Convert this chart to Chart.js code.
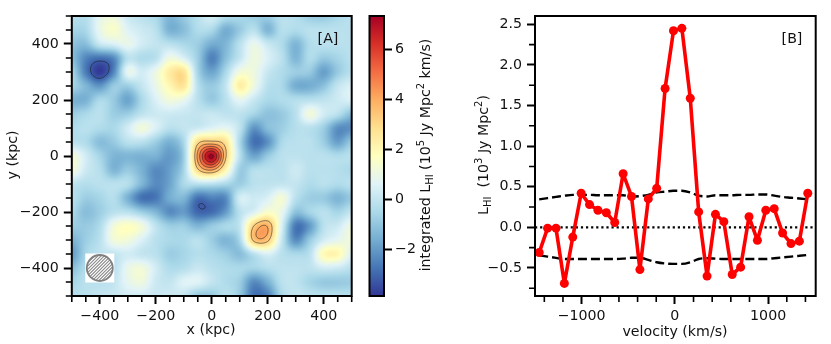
<!DOCTYPE html>
<html>
<head>
<meta charset="utf-8">
<script src="https://cdn.jsdelivr.net/npm/chart.js@4"></script>
<style>
html, body { margin: 0; padding: 0; background: #fff; overflow: hidden; }
canvas { position: absolute; top: 0; }
</style>
</head>
<body>
<canvas id="mapChart" width="360" height="344" style="left:0"></canvas>
<canvas id="barChart" width="80" height="344" style="left:360px"></canvas>
<canvas id="lineChart" width="391" height="344" style="left:440px"></canvas>
<script>
// map values, columns x = -500..500, rows y = 500..-500 (kpc)
var mapX = [-500,-450,-400,-350,-300,-250,-200,-150,-100,-50,0,50,100,150,200,250,300,350,400,450,500];
var mapY = [500,450,400,350,300,250,200,150,100,50,0,-50,-100,-150,-200,-250,-300,-350,-400,-450,-500];
var mapValues = [
 [-0.2,-0.3,0.8,1.1,0.2,-0.2,-0.5,-1.4,-0.9,-0.2,0.4,-0.3,-0.5,-0.8,-0.8,-0.2,-0.3,-0.8,-0.9,-0.5,-0.2],
 [-0.6,-0.5,0.9,1.5,0.6,0.2,-0.2,-1.5,-1.2,-0.4,-0.5,-1.6,-0.9,-0.2,-1.4,-0.3,-0.4,-0.2,-0.2,-0.2,-0.2],
 [-1.1,-1.2,0.1,0.5,0.9,0.3,0.0,-0.2,-0.5,-0.8,-1.6,-1.4,-0.2,0.9,0.1,-0.4,-1.4,-0.4,-0.2,-0.2,-0.2],
 [-1.2,-2.4,-2.8,-2.3,-0.2,-0.4,-0.2,1.1,0.5,-0.8,-2.5,-1.2,0.0,1.1,0.5,-0.2,-1.4,-0.4,-0.9,-0.6,-0.2],
 [-0.6,-2.6,-3.8,-2.4,0.8,0.3,1.0,2.4,2.7,-0.6,-1.8,-0.5,1.2,1.1,0.1,-0.4,-0.8,-0.9,-1.9,-0.9,-0.2],
 [-0.6,-1.4,-2.1,-0.9,-0.8,0.0,0.9,2.0,2.6,-0.2,-0.9,0.0,2.3,1.1,-0.2,-0.5,-1.6,-1.6,-1.1,0.0,0.5],
 [-1.5,-1.5,-0.5,-0.9,-1.8,-0.5,0.5,1.2,0.9,-0.2,-0.9,-0.2,0.8,0.1,-0.5,-0.4,-0.3,-0.2,-0.1,0.2,0.5],
 [-0.8,-0.5,-0.2,-0.8,-0.8,-0.1,0.2,0.2,0.1,0.0,0.1,-0.1,-0.1,-0.6,-1.1,-0.9,-0.2,1.2,0.3,-0.2,-1.2],
 [-0.4,-0.2,-0.4,-0.5,0.3,1.2,0.5,-0.2,0.0,0.2,0.6,0.8,-0.1,-2.1,-1.2,-0.8,-0.3,-0.2,-0.8,-2.2,-2.2],
 [-0.2,-0.4,-1.2,-0.9,-0.2,-0.2,-0.8,-1.5,-0.5,2.9,3.4,2.7,-0.5,-2.8,-2.2,-0.5,-0.2,-0.2,-0.8,-1.9,-0.9],
 [1.3,0.3,-0.6,-1.4,-1.4,-1.5,-1.5,-2.0,-0.8,4.2,7.3,3.3,-0.2,-1.8,-0.9,-0.2,-0.1,-0.2,-0.2,-0.4,-0.2],
 [1.3,0.2,-0.3,-1.4,-0.9,-1.5,-2.3,-1.9,-0.6,3.0,4.0,2.0,-0.8,-0.3,-0.2,-0.2,0.2,-0.2,-0.2,-0.3,-0.5],
 [-0.1,-0.3,-0.2,-0.2,-0.3,-1.4,-2.3,-1.8,-0.5,-0.2,-0.2,-0.5,-0.8,-0.2,-0.1,0.0,0.0,-0.4,-0.2,-0.4,-0.2],
 [-0.2,-0.8,-0.6,-0.3,-1.5,-2.8,-2.7,-1.6,-1.4,-2.8,-2.5,-2.3,0.3,0.2,0.5,1.3,-0.2,-0.8,-0.9,-1.4,-0.9],
 [-0.5,-1.2,-0.8,-0.2,-0.2,-0.8,-1.4,-2.3,-2.0,-3.0,-2.9,-2.0,-0.2,0.5,1.5,0.9,-1.1,-0.6,-0.2,-0.6,0.0],
 [-0.8,-0.9,-0.4,1.2,1.7,1.2,-0.1,-0.8,-0.8,-1.4,-0.9,-0.5,0.0,3.2,3.9,0.5,-2.7,-2.0,-0.2,0.2,1.1],
 [-1.5,-0.8,-0.2,1.2,1.2,0.5,-0.2,-0.5,-0.5,-0.2,-0.8,-1.4,-0.5,3.4,3.4,0.1,-2.3,-0.9,0.3,0.8,1.2],
 [-2.0,-0.6,-0.1,0.0,0.3,0.0,-0.2,-0.8,-0.6,-0.3,-0.5,-0.8,-1.2,-0.2,0.5,-0.2,-0.5,-0.2,1.9,2.0,0.6],
 [-1.2,-0.4,-0.3,-0.2,0.9,1.2,0.3,-0.4,-0.3,0.1,-0.2,-0.4,-0.5,-0.6,-0.3,-0.1,-0.1,-0.1,0.3,0.2,-0.2],
 [-0.6,-0.2,-0.2,0.0,0.8,1.1,0.2,0.0,0.6,0.6,0.0,-0.4,-0.8,-2.3,-1.5,-0.2,-0.1,-0.6,-0.9,-0.9,-0.8],
 [-0.3,-0.2,0.0,0.1,0.3,0.3,0.1,0.2,0.0,-0.9,-0.9,-0.2,-0.9,-2.8,-2.5,-0.5,0.0,-0.1,-0.2,-0.2,-0.2]
];
var contourLevels = [-3.2,3.2,4.0,4.8,5.6,6.4,7.2];
var colorStops = ['#313695','#4575b4','#74add1','#abd9e9','#e0f3f8','#ffffbf','#fee090','#fdae61','#f46d43','#d73027','#a50026'];
var colorMin = -3.87, colorMax = 7.33;

var mapTicks = [-400,-200,0,200,400];
var mapMinor = [-500,-450,-350,-300,-250,-150,-100,-50,50,100,150,250,300,350,450,500];
var barTicks = [-2,0,2,4,6];

// spectrum
var velocity = [-1455,-1365,-1275,-1185,-1095,-1005,-915,-825,-735,-645,-555,-465,-375,-285,-195,-105,-15,75,165,255,345,435,525,615,705,795,885,975,1065,1155,1245,1335,1425];
var luminosity = [-0.31,-0.01,-0.01,-0.69,-0.12,0.42,0.28,0.21,0.18,0.06,0.66,0.38,-0.52,0.35,0.48,1.71,2.42,2.45,1.59,0.19,-0.60,0.16,0.07,-0.58,-0.49,0.13,-0.16,0.21,0.23,-0.07,-0.20,-0.17,0.42];
var upperLimit = [0.345,0.36,0.375,0.39,0.40,0.40,0.40,0.395,0.395,0.395,0.395,0.38,0.385,0.40,0.43,0.44,0.45,0.45,0.43,0.39,0.38,0.395,0.395,0.395,0.40,0.40,0.405,0.405,0.39,0.375,0.365,0.355,0.345];
var lowerLimit = [-0.345,-0.36,-0.375,-0.39,-0.39,-0.39,-0.39,-0.39,-0.39,-0.39,-0.385,-0.375,-0.375,-0.40,-0.43,-0.445,-0.45,-0.45,-0.43,-0.39,-0.38,-0.385,-0.39,-0.39,-0.39,-0.39,-0.39,-0.39,-0.38,-0.37,-0.36,-0.35,-0.34];
var zeroX = [-1500,1510], zeroY = [0,0];
var velTicks = [-1000,0,1000];
var velMinor = [-1400,-1200,-800,-600,-400,-200,200,400,600,800,1200,1400];
var lumTicks = [-0.5,0,0.5,1,1.5,2,2.5];
var lumMinor = [-0.75,-0.25,0.25,0.75,1.25,1.75,2.25];

var FONT = 'DejaVu Sans';
var SIZE = 14.2;
var INK = '#111';

function minusFmt(v) { return String(v).replace('-', '\u2212'); }

function hexRgb(h) {
  return [parseInt(h.substr(1,2),16), parseInt(h.substr(3,2),16), parseInt(h.substr(5,2),16)];
}
var stopsRgb = colorStops.map(hexRgb);

function colorFor(v) {
  var t = (v - colorMin) / (colorMax - colorMin);
  t = Math.max(0, Math.min(0.99999, t)) * (stopsRgb.length - 1);
  var i = Math.floor(t), f = t - i;
  var a = stopsRgb[i], b = stopsRgb[i + 1];
  return [a[0] + (b[0]-a[0])*f, a[1] + (b[1]-a[1])*f, a[2] + (b[2]-a[2])*f];
}

function cubic(a, b, c, d, t) {
  return b + 0.5*t*(c - a + t*(2*a - 5*b + 4*c - d + t*(3*(b - c) + d - a)));
}

// catmull-rom lookup in the value table
function sampleMap(x, y) {
  var n = mapX.length - 1, m = mapY.length - 1;
  var fx = (x - mapX[0]) / (mapX[n] - mapX[0]) * n;
  var fy = (y - mapY[0]) / (mapY[m] - mapY[0]) * m;
  var ix = Math.min(n - 1, Math.max(0, Math.floor(fx)));
  var iy = Math.min(m - 1, Math.max(0, Math.floor(fy)));
  var col = [];
  for (var j = -1; j <= 2; j++) {
    var row = mapValues[Math.max(0, Math.min(m, iy + j))];
    col.push(cubic(row[Math.max(0, ix-1)], row[ix], row[ix+1], row[Math.min(n, ix+2)], fx - ix));
  }
  return cubic(col[0], col[1], col[2], col[3], fy - iy);
}

// label with sub/superscripts: each piece is [text, 'sub'|'sup'|undefined]
function richText(ctx, pieces, cx, cy, rotate) {
  ctx.save();
  ctx.translate(cx, cy);
  if (rotate) ctx.rotate(-Math.PI / 2);
  ctx.fillStyle = INK;
  ctx.textBaseline = 'alphabetic';
  ctx.textAlign = 'left';
  var total = 0;
  pieces.forEach(function (p) {
    ctx.font = (p[1] ? 10 : SIZE) + 'px "' + FONT + '"';
    total += ctx.measureText(p[0]).width;
  });
  var at = -total / 2;
  pieces.forEach(function (p) {
    ctx.font = (p[1] ? 10 : SIZE) + 'px "' + FONT + '"';
    var dy = p[1] === 'sub' ? 7.5 : (p[1] === 'sup' ? -1 : 5);
    ctx.fillText(p[0], at, dy);
    at += ctx.measureText(p[0]).width;
  });
  ctx.restore();
}

function drawFrame(chart) {
  var a = chart.chartArea, ctx = chart.ctx;
  ctx.save();
  ctx.strokeStyle = '#000';
  ctx.lineWidth = 2;
  ctx.strokeRect(a.left, a.top, a.right - a.left, a.bottom - a.top);
  ctx.restore();
}

function minorTicks(chart, xs, ys) {
  var ctx = chart.ctx, a = chart.chartArea;
  ctx.save();
  ctx.strokeStyle = '#000';
  ctx.lineWidth = 1.6;
  ctx.beginPath();
  xs.forEach(function (v) {
    var p = chart.scales.x.getPixelForValue(v);
    ctx.moveTo(p, a.bottom);
    ctx.lineTo(p, a.bottom + 6);
  });
  ys.forEach(function (v) {
    var p = chart.scales.y.getPixelForValue(v);
    ctx.moveTo(a.left, p);
    ctx.lineTo(a.left - 6, p);
  });
  ctx.stroke();
  ctx.restore();
}

function fixedTicks(list) {
  return function (scale) {
    scale.ticks = list.map(function (v) { return { value: v }; });
  };
}

function axisOpts(min, max, list, pos, fit, fmt, pad) {
  return {
    type: 'linear',
    position: pos,
    min: min,
    max: max,
    afterBuildTicks: fixedTicks(list),
    afterFit: fit,
    border: { display: false },
    grid: { drawOnChartArea: false, drawTicks: true, tickLength: 8, tickWidth: 2, tickColor: '#000' },
    ticks: {
      color: INK,
      padding: pad,
      maxRotation: 0,
      autoSkip: false,
      font: { family: FONT, size: SIZE },
      callback: fmt || function (v) { return minusFmt(v); }
    }
  };
}

var mapPlugin = {
  id: 'mapLayer',
  beforeDatasetsDraw: function (chart) {
    var ctx = chart.ctx, a = chart.chartArea;
    var sx = chart.scales.x, sy = chart.scales.y;
    var x0 = sx.getPixelForValue(-500), x1 = sx.getPixelForValue(500);
    var y0 = sy.getPixelForValue(500), y1 = sy.getPixelForValue(-500);

    // colour field
    var N = 140;
    var off = document.createElement('canvas');
    off.width = N; off.height = N;
    var octx = off.getContext('2d');
    var img = octx.createImageData(N, N);
    for (var j = 0; j < N; j++) {
      for (var i = 0; i < N; i++) {
        var c = colorFor(sampleMap(-500 + 1000*(i+0.5)/N, 500 - 1000*(j+0.5)/N));
        var k = (j*N + i)*4;
        img.data[k] = c[0]; img.data[k+1] = c[1]; img.data[k+2] = c[2]; img.data[k+3] = 255;
      }
    }
    octx.putImageData(img, 0, 0);
    ctx.save();
    ctx.imageSmoothingEnabled = true;
    ctx.imageSmoothingQuality = 'high';
    ctx.drawImage(off, x0, y0, x1 - x0, y1 - y0);
    ctx.restore();

    // contours, marching squares over a fine sampling of the table
    var M = 400, f = [];
    for (j = 0; j <= M; j++) {
      f.push([]);
      for (i = 0; i <= M; i++) f[j].push(sampleMap(-500 + 1000*i/M, 500 - 1000*j/M));
    }
    ctx.save();
    ctx.strokeStyle = 'rgba(20,20,20,0.75)';
    ctx.lineWidth = 0.7;
    ctx.beginPath();
    contourLevels.forEach(function (lev) {
      for (var j = 0; j < M; j++) {
        for (var i = 0; i < M; i++) {
          var pts = [];
          var v = [f[j][i], f[j][i+1], f[j+1][i+1], f[j+1][i]];
          var cx = [i, i+1, i+1, i], cy = [j, j, j+1, j+1];
          for (var e = 0; e < 4; e++) {
            var n = (e + 1) % 4;
            if ((v[e] < lev) !== (v[n] < lev)) {
              var t = (lev - v[e]) / (v[n] - v[e]);
              pts.push([cx[e] + (cx[n]-cx[e])*t, cy[e] + (cy[n]-cy[e])*t]);
            }
          }
          for (var q = 0; q + 1 < pts.length; q += 2) {
            ctx.moveTo(sx.getPixelForValue(-500 + 1000*pts[q][0]/M), sy.getPixelForValue(500 - 1000*pts[q][1]/M));
            ctx.lineTo(sx.getPixelForValue(-500 + 1000*pts[q+1][0]/M), sy.getPixelForValue(500 - 1000*pts[q+1][1]/M));
          }
        }
      }
    });
    ctx.stroke();
    ctx.restore();

    // beam marker
    var bx = sx.getPixelForValue(-400), by = sy.getPixelForValue(-400);
    var half = 14.5, r = 13;
    ctx.save();
    ctx.fillStyle = '#fff';
    ctx.fillRect(bx - half, by - half, half*2, half*2);
    ctx.beginPath();
    ctx.arc(bx, by, r, 0, Math.PI*2);
    ctx.save();
    ctx.clip();
    ctx.strokeStyle = '#8a8a8a';
    ctx.lineWidth = 1.1;
    ctx.beginPath();
    for (var d = -30; d <= 30; d += 3.2) {
      ctx.moveTo(bx + d - 20, by + 20);
      ctx.lineTo(bx + d + 20, by - 20);
    }
    ctx.stroke();
    ctx.restore();
    ctx.strokeStyle = '#808080';
    ctx.lineWidth = 1.8;
    ctx.beginPath();
    ctx.arc(bx, by, r, 0, Math.PI*2);
    ctx.stroke();
    ctx.restore();
  },
  afterDraw: function (chart) {
    var ctx = chart.ctx;
    drawFrame(chart);
    minorTicks(chart, mapMinor, mapMinor);
    richText(ctx, [['[A]']], 328, 38, false);
    richText(ctx, [['x (kpc)']], 211, 329, false);
    richText(ctx, [['y (kpc)']], 12, 155, true);
  }
};

var barPlugin = {
  id: 'barLayer',
  beforeDatasetsDraw: function (chart) {
    var ctx = chart.ctx, a = chart.chartArea, sy = chart.scales.y;
    var g = ctx.createLinearGradient(0, sy.getPixelForValue(colorMin), 0, sy.getPixelForValue(colorMax));
    colorStops.forEach(function (c, i) { g.addColorStop(i / (colorStops.length - 1), c); });
    ctx.save();
    ctx.fillStyle = g;
    ctx.fillRect(a.left, a.top, a.right - a.left, a.bottom - a.top);
    ctx.restore();
  },
  afterDraw: function (chart) {
    drawFrame(chart);
    richText(chart.ctx, [['integrated L'],['HI','sub'],[' (10'],['5','sup'],[' Jy Mpc'],['2','sup'],[' km/s)']], 65, 155, true);
  }
};

var linePlugin = {
  id: 'lineLayer',
  afterDraw: function (chart) {
    var ctx = chart.ctx;
    drawFrame(chart);
    minorTicks(chart, velMinor, lumMinor);
    richText(ctx, [['[B]']], 352, 38, false);
    richText(ctx, [['velocity (km/s)']], 235, 331, false);
    richText(ctx, [['L'],['HI','sub'],['  (10'],['3','sup'],[' Jy Mpc'],['2','sup'],[')']], 43, 155, true);
  }
};

function pairs(xs, ys) {
  return xs.map(function (x, i) { return { x: x, y: ys[i] }; });
}

var base = {
  responsive: false,
  animation: false,
  events: [],
  plugins: { legend: { display: false }, tooltip: { enabled: false } }
};

function withBase(extra) { return Object.assign({}, base, extra); }

new Chart(document.getElementById('mapChart'), {
  type: 'scatter',
  data: { datasets: [{ data: [] }] },
  plugins: [mapPlugin],
  options: withBase({
    layout: { padding: { top: 16, left: 0, right: 8.3, bottom: 0 } },
    scales: {
      x: axisOpts(-500, 500, mapTicks, 'bottom', function (s) { s.height = 48; }, null, 4),
      y: axisOpts(-500, 500, mapTicks, 'left', function (s) { s.width = 71.8; }, null, 5)
    }
  })
});

new Chart(document.getElementById('barChart'), {
  type: 'scatter',
  data: { datasets: [{ data: [] }] },
  plugins: [barPlugin],
  options: withBase({
    layout: { padding: { top: 16, left: 9.5, right: 0, bottom: 48 } },
    scales: {
      x: { type: 'linear', display: false, min: 0, max: 1 },
      y: axisOpts(colorMin, colorMax, barTicks, 'right', function (s) { s.width = 56; }, null, 3)
    }
  })
});

new Chart(document.getElementById('lineChart'), {
  type: 'scatter',
  data: {
    datasets: [
      { data: pairs(velocity, luminosity), showLine: true, borderColor: '#ff0000', backgroundColor: '#ff0000', borderWidth: 3.6, borderJoinStyle: 'round', pointRadius: 4.5, pointBorderWidth: 0, order: 1 },
      { data: pairs(velocity, upperLimit), showLine: true, borderColor: '#000', borderWidth: 2.4, borderDash: [9, 4], pointRadius: 0, cubicInterpolationMode: 'monotone', order: 2 },
      { data: pairs(velocity, lowerLimit), showLine: true, borderColor: '#000', borderWidth: 2.4, borderDash: [9, 4], pointRadius: 0, cubicInterpolationMode: 'monotone', order: 3 },
      { data: pairs(zeroX, zeroY), showLine: true, borderColor: '#000', borderWidth: 2.2, borderDash: [2.2, 2.9], pointRadius: 0, order: 4 }
    ]
  },
  plugins: [linePlugin],
  options: withBase({
    layout: { padding: { top: 16, left: 0, right: 15.3, bottom: 0 } },
    scales: {
      x: axisOpts(-1500, 1510, velTicks, 'bottom', function (s) { s.height = 48; }, null, 4),
      y: axisOpts(-0.845, 2.602, lumTicks, 'left', function (s) { s.width = 95; }, function (v) { return minusFmt(v.toFixed(1)); }, 5)
    }
  })
});
</script>
</body>
</html>
